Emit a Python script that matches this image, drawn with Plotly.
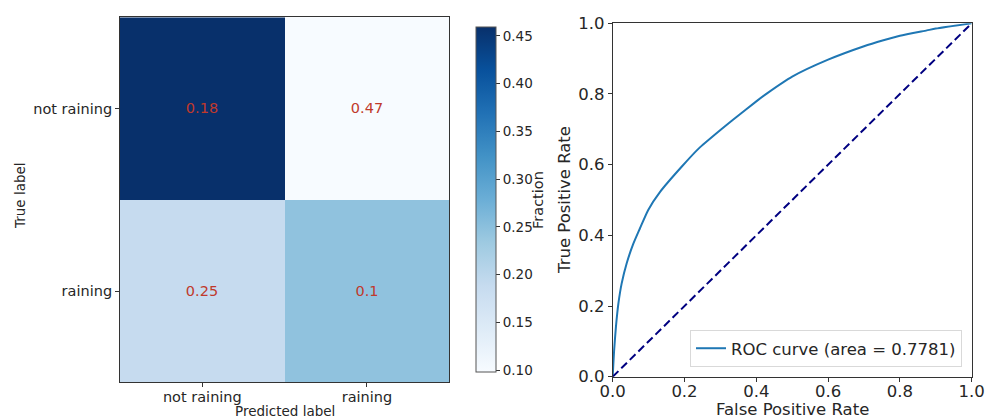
import plotly.graph_objects as go

# ---------------- data ----------------
true_labels = ["not raining", "raining"]
pred_labels = ["not raining", "raining"]
cell_shading = [[0.459, 0.098], [0.188, 0.246]]   # colour of each cell (Fraction)
cell_text = [["0.18", "0.47"], ["0.25", "0.1"]]     # numbers printed in cells
cbar_ticks = [0.10, 0.15, 0.20, 0.25, 0.30, 0.35, 0.40, 0.45]

fpr = [0, 0.004, 0.009, 0.016, 0.025, 0.039, 0.057, 0.076, 0.099, 0.132, 0.192,
       0.240, 0.300, 0.336, 0.400, 0.429, 0.500, 0.600, 0.700, 0.754, 0.800,
       0.875, 0.900, 1.0]
tpr = [0, 0.075, 0.141, 0.208, 0.264, 0.321, 0.375, 0.420, 0.472, 0.523, 0.594,
       0.646, 0.698, 0.728, 0.779, 0.801, 0.849, 0.897, 0.935, 0.952, 0.965,
       0.980, 0.985, 1.0]
chance = [0, 1]
roc_auc = 0.7781
roc_ticks = [0.0, 0.2, 0.4, 0.6, 0.8, 1.0]

# ---------------- figure ----------------
W, H = 986, 419
blues = [[0.0, "#f7fbff"], [0.125, "#deebf7"], [0.25, "#c6dbef"], [0.375, "#9ecae1"],
         [0.5, "#6baed6"], [0.625, "#4292c6"], [0.75, "#2171b5"], [0.875, "#08519c"],
         [1.0, "#08306b"]]
FONT = "DejaVu Sans"
INK = "#262626"
AX = "#333333"

fig = go.Figure()

fig.add_trace(go.Heatmap(
    x=pred_labels, y=true_labels, z=cell_shading,
    text=cell_text, texttemplate="%{text}",
    textfont=dict(family=FONT, size=14.5, color="#c0392b"),
    colorscale=blues, xaxis="x", yaxis="y", showscale=True, hoverinfo="skip",
    colorbar=dict(
        x=465.7 / W, xanchor="left", thickness=20,
        y=1 - 199.7 / H, yanchor="middle", len=365, lenmode="pixels",
        outlinewidth=1, outlinecolor="#555",
        tickvals=cbar_ticks, ticktext=[f"{v:.2f}" for v in cbar_ticks],
        ticks="outside", ticklen=4, tickcolor=AX,
        tickfont=dict(family=FONT, size=13.5, color=INK),
    ),
))

fig.add_trace(go.Scatter(
    x=fpr, y=tpr, mode="lines", xaxis="x2", yaxis="y2",
    line=dict(color="#1f77b4", width=2, shape="spline", smoothing=0.6),
    name=f"ROC curve (area = {roc_auc:.4f})", showlegend=True,
))
fig.add_trace(go.Scatter(
    x=chance, y=chance, mode="lines", xaxis="x2", yaxis="y2",
    line=dict(color="navy", width=2, dash="8px,4px"), showlegend=False,
))

axis_common = dict(showgrid=False, zeroline=False, showline=True, mirror=True,
                   linecolor=AX, linewidth=1, ticks="outside", ticklen=4,
                   tickcolor=AX, automargin=False)


def label(text, x, y, size, angle=0):
    return dict(text=text, x=x / W, y=1 - y / H, xref="paper", yref="paper",
                xanchor="center", yanchor="middle", textangle=angle,
                showarrow=False, font=dict(size=size))


fig.update_layout(
    width=W, height=H, margin=dict(l=0, r=0, t=0, b=0, autoexpand=False),
    paper_bgcolor="white", plot_bgcolor="white",
    font=dict(family=FONT, color=INK),
    xaxis=dict(domain=[120 / W, 449.3 / W], anchor="y", range=[-0.5, 1.5],
               tickfont=dict(size=14.5), ticklabelstandoff=-3, **axis_common),
    yaxis=dict(domain=[1 - 382.3 / H, 1 - 17.3 / H], anchor="x", range=[1.5, -0.5],
               tickfont=dict(size=14.5), **axis_common),
    xaxis2=dict(domain=[612.7 / W, 971.7 / W], anchor="y2", range=[0, 1],
                tickvals=roc_ticks, ticktext=[f"{v:.1f}" for v in roc_ticks],
                tickfont=dict(size=16.5), ticklabelstandoff=-5, **axis_common),
    yaxis2=dict(domain=[1 - 376.7 / H, 1 - 23.3 / H], anchor="x2", range=[0, 1],
                tickvals=roc_ticks, ticktext=[f"{v:.1f}" for v in roc_ticks],
                tickfont=dict(size=16.5), **axis_common),
    legend=dict(x=962 / W, xanchor="right", y=1 - 367 / H, yanchor="bottom",
                bgcolor="white", bordercolor="#d9d9d9", borderwidth=1,
                font=dict(family=FONT, size=16.5, color=INK)),
    annotations=[
        label("True label", 20, 196, 13.5, -90),
        label("Predicted label", 284.7, 411, 13.5),
        label("Fraction", 538, 200, 14.5, -90),
        label("True Positive Rate", 565, 200, 16.5, -90),
        label("False Positive Rate", 792, 409, 16.5),
    ],
)

fig.write_html("out.html")
